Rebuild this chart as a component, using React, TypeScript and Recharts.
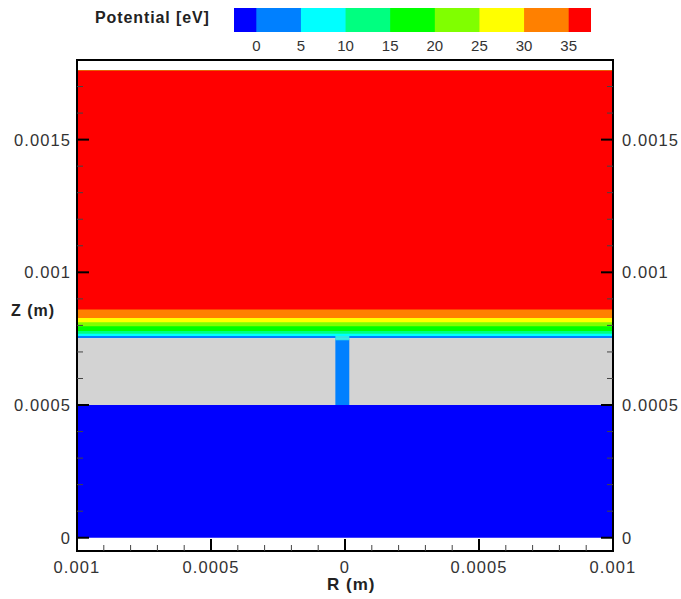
import React from 'react';
import { ComposedChart, XAxis, YAxis, ReferenceArea } from 'recharts';

// ---- Colour scale (Potential [eV]) ----
const colorbarEdges = [-2.5, 0, 5, 10, 15, 20, 25, 30, 35, 37.5];
const colorbarColors = ['#0000ff', '#0080ff', '#00ffff', '#00ff80', '#00ff00', '#80ff00', '#ffff00', '#ff8000', '#ff0000'];
const colorbarTicks = [0, 5, 10, 15, 20, 25, 30, 35];

// ---- Axes ----
const rDomain = [-0.001, 0.001];
const zDomain = [-0.00005, 0.0018];
const rTicks = [-0.001, -0.0009, -0.0008, -0.0007, -0.0006, -0.0005, -0.0004, -0.0003, -0.0002, -0.0001, 0,
  0.0001, 0.0002, 0.0003, 0.0004, 0.0005, 0.0006, 0.0007, 0.0008, 0.0009, 0.001];
const rMajorTicks = [-0.001, -0.0005, 0, 0.0005, 0.001];
const rMajorLabels = ['0.001', '0.0005', '0', '0.0005', '0.001'];
const zTicks = [0, 0.0001, 0.0002, 0.0003, 0.0004, 0.0005, 0.0006, 0.0007, 0.0008, 0.0009, 0.001,
  0.0011, 0.0012, 0.0013, 0.0014, 0.0015, 0.0016, 0.0017];
const zMajorTicks = [0, 0.0005, 0.001, 0.0015];
const zMajorLabels = ['0', '0.0005', '0.001', '0.0015'];

// ---- Potential field: contour bands above the dielectric (lower edge in Z, colour) ----
const fieldTop = 0.00176;
const bandLower = [0.000752, 0.00076, 0.000769, 0.000779, 0.000797, 0.000812, 0.000828, 0.00086];
const bandColors = ['#0080ff', '#00ffff', '#00ff80', '#00ff00', '#80ff00', '#ffff00', '#ff8000', '#ff0000'];

// Lower electrode region (below dielectric)
const lowerRegion = { z1: 0, z2: 0.00051, color: '#0000ff' };
// Dielectric slab with a hole in the centre
const dielectric = { z1: 0.0005, z2: 0.000752, color: '#d3d3d3' };
const hole = { r1: -0.000036, r2: 0.000016, z1: 0.0005, z2: 0.000752, color: '#0080ff' };
const holeTopGlow = { z1: 0.000744, z2: 0.00076, color: '#40ffe0' };

const FONT = '"Liberation Sans", Arial, Helvetica, sans-serif';
const TICK_COLOR = '#333';

const majorIndex = (v: number, arr: number[]) => arr.findIndex((m) => Math.abs(m - v) < 1e-10);

const LeftTick = (props: any) => {
  const { x, y, payload } = props;
  const i = majorIndex(payload.value, zMajorTicks);
  if (i < 0) return <line x1={x} x2={x + 6} y1={y} y2={y} stroke="#444" strokeWidth={1} />;
  return (
    <g>
      <line x1={x} x2={x + 12} y1={y} y2={y} stroke="#000" strokeWidth={2} />
      <text x={x - 6} y={y} dy="0.36em" textAnchor="end" fontFamily={FONT} fontSize={16.5} letterSpacing={1.1} fill={TICK_COLOR}>
        {zMajorLabels[i]}
      </text>
    </g>
  );
};

const RightTick = (props: any) => {
  const { x, y, payload } = props;
  const i = majorIndex(payload.value, zMajorTicks);
  if (i < 0) return <line x1={x} x2={x - 6} y1={y} y2={y} stroke="#444" strokeWidth={1} />;
  return (
    <g>
      <line x1={x} x2={x - 12} y1={y} y2={y} stroke="#000" strokeWidth={2} />
      <text x={x + 9} y={y} dy="0.36em" textAnchor="start" fontFamily={FONT} fontSize={16.5} letterSpacing={1.1} fill={TICK_COLOR}>
        {zMajorLabels[i]}
      </text>
    </g>
  );
};

const BottomTick = (props: any) => {
  const { x, y, payload } = props;
  const i = majorIndex(payload.value, rMajorTicks);
  if (i < 0) return <line x1={x} x2={x} y1={y} y2={y - 6} stroke="#444" strokeWidth={1} />;
  return (
    <g>
      <line x1={x} x2={x} y1={y} y2={y - 12} stroke="#000" strokeWidth={2} />
      <text x={x} y={y + 16} dy="0.36em" textAnchor="middle" fontFamily={FONT} fontSize={16.5} letterSpacing={1.1} fill={TICK_COLOR}>
        {rMajorLabels[i]}
      </text>
    </g>
  );
};

const ColorbarTick = (props: any) => {
  const { x, y, payload } = props;
  return (
    <text x={x} y={y + 13.5} dy="0.36em" textAnchor="middle" fontFamily={FONT} fontSize={15} fill={TICK_COLOR}>
      {payload.value}
    </text>
  );
};

export default function App() {
  return (
    <div style={{ position: 'absolute', left: 0, top: 0, width: 681, height: 599, background: '#fff' }}>
      {/* Main contour plot */}
      <div style={{ position: 'absolute', left: 0, top: 0 }}>
        <ComposedChart width={681} height={599} margin={{ top: 60, right: 0, bottom: 0, left: 0 }}>
          <XAxis
            dataKey="r"
            type="number"
            domain={rDomain}
            ticks={rTicks}
            interval={0}
            height={48}
            tickSize={0}
            tickMargin={0}
            axisLine={false}
            tickLine={false}
            allowDataOverflow
            tick={(p: any) => <BottomTick {...p} />}
          />
          <YAxis
            type="number"
            domain={zDomain}
            ticks={zTicks}
            interval={0}
            width={77}
            tickSize={0}
            tickMargin={0}
            axisLine={false}
            tickLine={false}
            allowDataOverflow
            tick={(p: any) => <LeftTick {...p} />}
          />
          <YAxis
            yAxisId="right"
            orientation="right"
            type="number"
            domain={zDomain}
            ticks={zTicks}
            interval={0}
            width={68}
            tickSize={0}
            tickMargin={0}
            axisLine={false}
            tickLine={false}
            allowDataOverflow
            tick={(p: any) => <RightTick {...p} />}
          />

          {/* contour bands above the dielectric, painted cumulatively */}
          {bandLower.map((z, i) => (
            <ReferenceArea
              key={'band' + i}
              x1={rDomain[0]}
              x2={rDomain[1]}
              y1={z}
              y2={fieldTop}
              fill={bandColors[i]}
              fillOpacity={1}
              stroke="none"
            />
          ))}
          <ReferenceArea x1={rDomain[0]} x2={rDomain[1]} y1={lowerRegion.z1} y2={lowerRegion.z2} fill={lowerRegion.color} fillOpacity={1} stroke="none" />
          <ReferenceArea x1={rDomain[0]} x2={rDomain[1]} y1={dielectric.z1} y2={dielectric.z2} fill={dielectric.color} fillOpacity={1} stroke="none" />
          <ReferenceArea x1={hole.r1} x2={hole.r2} y1={hole.z1} y2={hole.z2} fill={hole.color} fillOpacity={1} stroke="none" />
          <ReferenceArea x1={hole.r1} x2={hole.r2} y1={holeTopGlow.z1} y2={holeTopGlow.z2} fill={holeTopGlow.color} fillOpacity={0.8} stroke="none" />

          {/* frame */}
          <ReferenceArea x1={rDomain[0]} x2={rDomain[1]} y1={zDomain[0]} y2={zDomain[1]} fill="none" fillOpacity={0} stroke="#000" strokeWidth={2} />
        </ComposedChart>
      </div>

      {/* Colour bar legend */}
      <div style={{ position: 'absolute', left: 0, top: 0 }}>
        <ComposedChart width={681} height={60} margin={{ top: 8, right: 90, bottom: 0, left: 234 }}>
          <XAxis
            dataKey="level"
            type="number"
            domain={[colorbarEdges[0], colorbarEdges[colorbarEdges.length - 1]]}
            ticks={colorbarTicks}
            interval={0}
            height={28}
            tickSize={0}
            tickMargin={0}
            axisLine={false}
            tickLine={false}
            allowDataOverflow
            tick={(p: any) => <ColorbarTick {...p} />}
          />
          <YAxis type="number" domain={[0, 1]} width={0} tick={false} axisLine={false} tickLine={false} allowDataOverflow />
          {colorbarColors.map((c, i) => (
            <ReferenceArea
              key={'cb' + i}
              x1={colorbarEdges[i]}
              x2={colorbarEdges[colorbarEdges.length - 1]}
              y1={0}
              y2={1}
              fill={c}
              fillOpacity={1}
              stroke="none"
            />
          ))}
        </ComposedChart>
      </div>

      {/* Titles */}
      <div style={{ position: 'absolute', left: 95, top: 9, fontFamily: FONT, fontWeight: 'bold', fontSize: 16, letterSpacing: 0.9, lineHeight: '18px', color: '#222', whiteSpace: 'nowrap' }}>
        Potential [eV]
      </div>
      <div style={{ position: 'absolute', left: 11, top: 302, fontFamily: FONT, fontWeight: 'bold', fontSize: 16, letterSpacing: 1, lineHeight: '18px', color: '#222', whiteSpace: 'nowrap' }}>
        Z (m)
      </div>
      <div style={{ position: 'absolute', left: 327, top: 576, fontFamily: FONT, fontWeight: 'bold', fontSize: 17, letterSpacing: 1, lineHeight: '18px', color: '#222', whiteSpace: 'nowrap' }}>
        R (m)
      </div>
    </div>
  );
}
